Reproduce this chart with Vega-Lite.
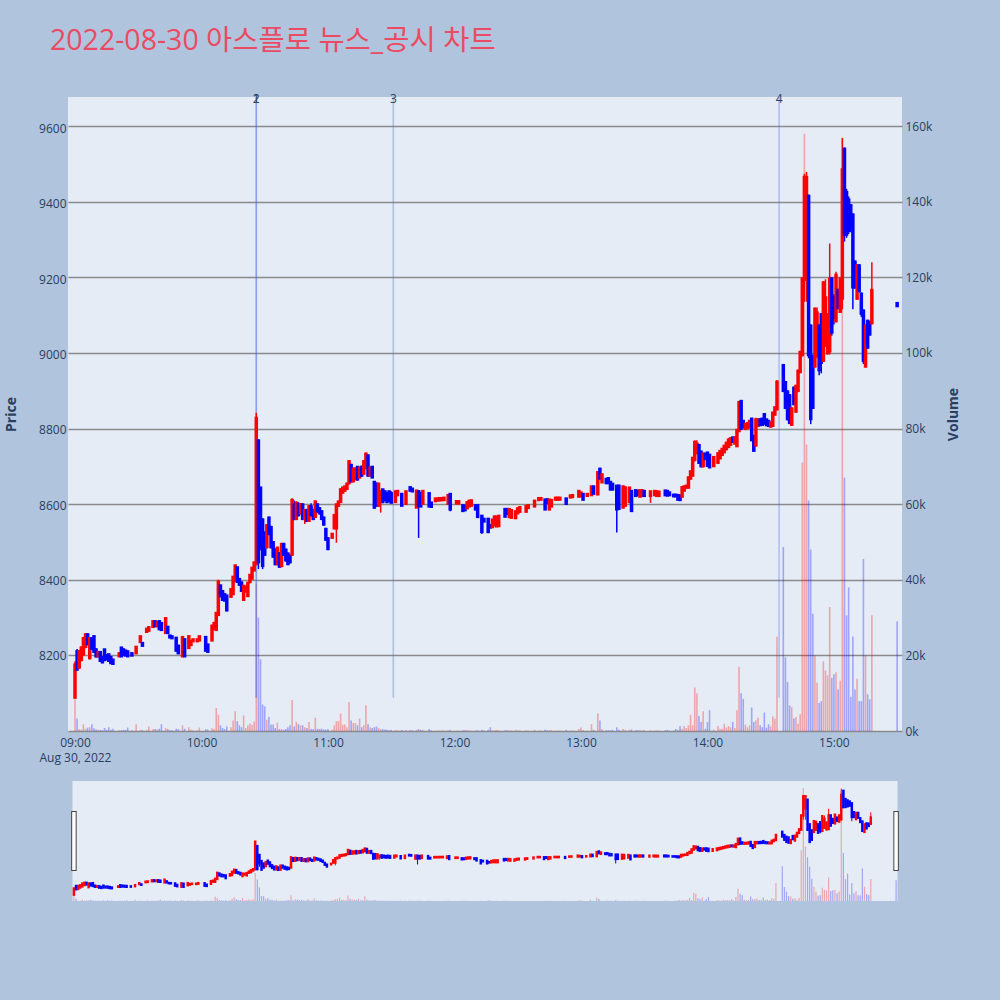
{
  "$schema": "https://vega.github.io/schema/vega-lite/v6.json",
  "background": "#B0C4DE",
  "padding": {"left": 4, "top": 26, "right": 62, "bottom": 130},
  "title": {
    "text": "2022-08-30 아스플로 뉴스_공시 차트",
    "anchor": "start",
    "frame": "group",
    "dx": -18,
    "offset": 38,
    "fontSize": 28.5,
    "fontWeight": "normal",
    "font": "Open Sans, Noto Sans CJK KR",
    "color": "#EB4B62"
  },
  "datasets": {
    "news": [{"t": "10:26", "n": "1"}, {"t": "10:26", "n": "2"}, {"t": "11:31", "n": "3"}, {"t": "14:34", "n": "4"}]
  },
  "data": {
    "format": {"parse": {"t": "date:'%H:%M'"}},
    "values": [
      {"t":"09:00","o":8090,"h":8185,"l":8088,"c":8175,"v":8400},
      {"t":"09:01","o":8210,"h":8218,"l":8160,"c":8165,"v":3300},
      {"t":"09:02","o":8170,"h":8215,"l":8165,"c":8210,"v":500},
      {"t":"09:03","o":8190,"h":8225,"l":8185,"c":8220,"v":400},
      {"t":"09:04","o":8205,"h":8250,"l":8200,"c":8245,"v":1800},
      {"t":"09:05","o":8225,"h":8260,"l":8220,"c":8255,"v":600},
      {"t":"09:06","o":8255,"h":8260,"l":8228,"c":8232,"v":900},
      {"t":"09:07","o":8195,"h":8250,"l":8190,"c":8245,"v":1000},
      {"t":"09:08","o":8245,"h":8250,"l":8215,"c":8220,"v":1800},
      {"t":"09:09","o":8250,"h":8255,"l":8210,"c":8212,"v":700},
      {"t":"09:10","o":8215,"h":8220,"l":8195,"c":8200,"v":400},
      {"t":"09:11","o":8200,"h":8212,"l":8195,"c":8208,"v":300},
      {"t":"09:12","o":8208,"h":8210,"l":8185,"c":8188,"v":300},
      {"t":"09:13","o":8195,"h":8198,"l":8180,"c":8184,"v":200},
      {"t":"09:14","o":8215,"h":8218,"l":8188,"c":8190,"v":800},
      {"t":"09:15","o":8200,"h":8202,"l":8190,"c":8192,"v":300},
      {"t":"09:16","o":8202,"h":8205,"l":8185,"c":8188,"v":1000},
      {"t":"09:17","o":8195,"h":8198,"l":8180,"c":8182,"v":300},
      {"t":"09:18","o":8188,"h":8190,"l":8178,"c":8180,"v":600},
      {"t":"09:21","o":8200,"h":8205,"l":8200,"c":8205,"v":200},
      {"t":"09:22","o":8220,"h":8222,"l":8198,"c":8200,"v":200},
      {"t":"09:23","o":8215,"h":8220,"l":8200,"c":8205,"v":300},
      {"t":"09:24","o":8212,"h":8215,"l":8200,"c":8202,"v":300},
      {"t":"09:25","o":8210,"h":8212,"l":8198,"c":8200,"v":900},
      {"t":"09:27","o":8205,"h":8205,"l":8200,"c":8202,"v":200},
      {"t":"09:29","o":8208,"h":8225,"l":8205,"c":8222,"v":1800},
      {"t":"09:31","o":8238,"h":8252,"l":8236,"c":8250,"v":300},
      {"t":"09:32","o":8232,"h":8232,"l":8228,"c":8228,"v":200},
      {"t":"09:34","o":8265,"h":8270,"l":8265,"c":8270,"v":300},
      {"t":"09:35","o":8268,"h":8275,"l":8266,"c":8274,"v":1200},
      {"t":"09:37","o":8278,"h":8292,"l":8276,"c":8290,"v":500},
      {"t":"09:38","o":8290,"h":8292,"l":8276,"c":8280,"v":500},
      {"t":"09:39","o":8280,"h":8292,"l":8278,"c":8288,"v":400},
      {"t":"09:40","o":8290,"h":8292,"l":8270,"c":8272,"v":600},
      {"t":"09:41","o":8285,"h":8287,"l":8268,"c":8270,"v":1800},
      {"t":"09:43","o":8262,"h":8302,"l":8258,"c":8298,"v":800},
      {"t":"09:44","o":8275,"h":8277,"l":8260,"c":8262,"v":500},
      {"t":"09:45","o":8252,"h":8252,"l":8250,"c":8250,"v":200},
      {"t":"09:46","o":8250,"h":8250,"l":8248,"c":8248,"v":200},
      {"t":"09:48","o":8246,"h":8248,"l":8212,"c":8215,"v":600},
      {"t":"09:49","o":8225,"h":8228,"l":8205,"c":8208,"v":500},
      {"t":"09:51","o":8200,"h":8252,"l":8198,"c":8248,"v":1500},
      {"t":"09:52","o":8242,"h":8244,"l":8198,"c":8200,"v":600},
      {"t":"09:54","o":8222,"h":8252,"l":8220,"c":8250,"v":1000},
      {"t":"09:55","o":8230,"h":8240,"l":8228,"c":8238,"v":300},
      {"t":"09:56","o":8240,"h":8242,"l":8238,"c":8242,"v":200},
      {"t":"09:58","o":8240,"h":8242,"l":8240,"c":8242,"v":200},
      {"t":"09:59","o":8242,"h":8252,"l":8240,"c":8250,"v":900},
      {"t":"10:02","o":8248,"h":8250,"l":8212,"c":8215,"v":500},
      {"t":"10:03","o":8228,"h":8230,"l":8210,"c":8212,"v":400},
      {"t":"10:05","o":8242,"h":8282,"l":8240,"c":8278,"v":700},
      {"t":"10:06","o":8272,"h":8290,"l":8268,"c":8285,"v":500},
      {"t":"10:07","o":8270,"h":8315,"l":8268,"c":8312,"v":6100},
      {"t":"10:08","o":8310,"h":8402,"l":8305,"c":8395,"v":4300},
      {"t":"10:09","o":8385,"h":8388,"l":8355,"c":8360,"v":1500},
      {"t":"10:10","o":8370,"h":8372,"l":8348,"c":8350,"v":800},
      {"t":"10:11","o":8362,"h":8365,"l":8345,"c":8348,"v":500},
      {"t":"10:12","o":8358,"h":8360,"l":8318,"c":8322,"v":1200},
      {"t":"10:14","o":8358,"h":8378,"l":8355,"c":8375,"v":1000},
      {"t":"10:15","o":8365,"h":8412,"l":8362,"c":8408,"v":2800},
      {"t":"10:16","o":8400,"h":8442,"l":8397,"c":8438,"v":5200},
      {"t":"10:17","o":8433,"h":8435,"l":8393,"c":8398,"v":2600},
      {"t":"10:18","o":8402,"h":8404,"l":8388,"c":8390,"v":1500},
      {"t":"10:19","o":8393,"h":8395,"l":8371,"c":8374,"v":1000},
      {"t":"10:20","o":8350,"h":8386,"l":8348,"c":8384,"v":4100},
      {"t":"10:21","o":8372,"h":8385,"l":8370,"c":8382,"v":800},
      {"t":"10:22","o":8360,"h":8395,"l":8358,"c":8392,"v":1500},
      {"t":"10:23","o":8397,"h":8415,"l":8395,"c":8413,"v":2000},
      {"t":"10:24","o":8406,"h":8434,"l":8404,"c":8432,"v":1600},
      {"t":"10:25","o":8428,"h":8450,"l":8426,"c":8446,"v":2500},
      {"t":"10:26","o":8445,"h":8845,"l":8440,"c":8830,"v":39000},
      {"t":"10:27","o":8770,"h":8775,"l":8430,"c":8450,"v":30000},
      {"t":"10:28","o":8645,"h":8648,"l":8480,"c":8530,"v":19000},
      {"t":"10:29","o":8560,"h":8565,"l":8430,"c":8440,"v":7000},
      {"t":"10:30","o":8525,"h":8530,"l":8465,"c":8470,"v":6500},
      {"t":"10:31","o":8490,"h":8550,"l":8485,"c":8545,"v":3000},
      {"t":"10:32","o":8565,"h":8570,"l":8520,"c":8525,"v":3700},
      {"t":"10:33","o":8540,"h":8545,"l":8485,"c":8490,"v":1700},
      {"t":"10:34","o":8500,"h":8505,"l":8460,"c":8465,"v":1700},
      {"t":"10:35","o":8480,"h":8485,"l":8440,"c":8445,"v":800},
      {"t":"10:36","o":8445,"h":8490,"l":8440,"c":8485,"v":2200},
      {"t":"10:37","o":8470,"h":8475,"l":8435,"c":8438,"v":500},
      {"t":"10:38","o":8440,"h":8500,"l":8435,"c":8495,"v":500},
      {"t":"10:39","o":8495,"h":8500,"l":8465,"c":8470,"v":300},
      {"t":"10:40","o":8480,"h":8485,"l":8450,"c":8455,"v":500},
      {"t":"10:41","o":8470,"h":8472,"l":8440,"c":8445,"v":1000},
      {"t":"10:42","o":8465,"h":8468,"l":8445,"c":8450,"v":1500},
      {"t":"10:43","o":8470,"h":8618,"l":8465,"c":8612,"v":8200},
      {"t":"10:44","o":8600,"h":8612,"l":8560,"c":8565,"v":1200},
      {"t":"10:45","o":8565,"h":8610,"l":8560,"c":8605,"v":2400},
      {"t":"10:46","o":8600,"h":8608,"l":8570,"c":8575,"v":1800},
      {"t":"10:47","o":8580,"h":8605,"l":8575,"c":8600,"v":1500},
      {"t":"10:48","o":8600,"h":8605,"l":8560,"c":8565,"v":1500},
      {"t":"10:49","o":8565,"h":8590,"l":8550,"c":8585,"v":1000},
      {"t":"10:50","o":8585,"h":8590,"l":8555,"c":8560,"v":800},
      {"t":"10:51","o":8560,"h":8600,"l":8555,"c":8595,"v":2400},
      {"t":"10:52","o":8595,"h":8605,"l":8570,"c":8575,"v":600},
      {"t":"10:53","o":8575,"h":8590,"l":8560,"c":8565,"v":500},
      {"t":"10:54","o":8570,"h":8612,"l":8568,"c":8608,"v":3500},
      {"t":"10:55","o":8600,"h":8605,"l":8580,"c":8585,"v":600},
      {"t":"10:56","o":8590,"h":8595,"l":8575,"c":8580,"v":500},
      {"t":"10:57","o":8582,"h":8585,"l":8560,"c":8565,"v":600},
      {"t":"10:58","o":8565,"h":8570,"l":8545,"c":8550,"v":400},
      {"t":"10:59","o":8535,"h":8540,"l":8505,"c":8510,"v":300},
      {"t":"11:00","o":8510,"h":8515,"l":8480,"c":8485,"v":500},
      {"t":"11:02","o":8515,"h":8525,"l":8512,"c":8522,"v":300},
      {"t":"11:03","o":8540,"h":8575,"l":8536,"c":8572,"v":1500},
      {"t":"11:04","o":8540,"h":8605,"l":8500,"c":8600,"v":2600},
      {"t":"11:05","o":8600,"h":8610,"l":8595,"c":8608,"v":2600},
      {"t":"11:06","o":8610,"h":8645,"l":8608,"c":8640,"v":4600},
      {"t":"11:07","o":8635,"h":8648,"l":8630,"c":8645,"v":1700},
      {"t":"11:08","o":8640,"h":8650,"l":8636,"c":8648,"v":1700},
      {"t":"11:09","o":8645,"h":8660,"l":8640,"c":8655,"v":1000},
      {"t":"11:10","o":8660,"h":8720,"l":8655,"c":8715,"v":7700},
      {"t":"11:11","o":8705,"h":8710,"l":8660,"c":8665,"v":2800},
      {"t":"11:12","o":8665,"h":8700,"l":8660,"c":8695,"v":2100},
      {"t":"11:13","o":8670,"h":8700,"l":8668,"c":8695,"v":2100},
      {"t":"11:14","o":8700,"h":8702,"l":8665,"c":8670,"v":1500},
      {"t":"11:15","o":8675,"h":8700,"l":8672,"c":8698,"v":3300},
      {"t":"11:16","o":8700,"h":8705,"l":8675,"c":8680,"v":1000},
      {"t":"11:17","o":8685,"h":8720,"l":8682,"c":8715,"v":1500},
      {"t":"11:18","o":8700,"h":8740,"l":8698,"c":8735,"v":6800},
      {"t":"11:19","o":8730,"h":8735,"l":8675,"c":8680,"v":1800},
      {"t":"11:20","o":8680,"h":8702,"l":8677,"c":8698,"v":1000},
      {"t":"11:21","o":8700,"h":8702,"l":8672,"c":8675,"v":800},
      {"t":"11:22","o":8660,"h":8662,"l":8590,"c":8595,"v":1000},
      {"t":"11:23","o":8655,"h":8660,"l":8595,"c":8600,"v":1200},
      {"t":"11:24","o":8600,"h":8660,"l":8595,"c":8655,"v":800},
      {"t":"11:25","o":8620,"h":8640,"l":8580,"c":8635,"v":500},
      {"t":"11:26","o":8640,"h":8642,"l":8605,"c":8610,"v":500},
      {"t":"11:27","o":8635,"h":8637,"l":8610,"c":8615,"v":400},
      {"t":"11:28","o":8630,"h":8635,"l":8605,"c":8610,"v":300},
      {"t":"11:29","o":8635,"h":8637,"l":8608,"c":8612,"v":200},
      {"t":"11:30","o":8630,"h":8637,"l":8605,"c":8608,"v":300},
      {"t":"11:32","o":8610,"h":8637,"l":8608,"c":8635,"v":200},
      {"t":"11:33","o":8628,"h":8638,"l":8626,"c":8636,"v":200},
      {"t":"11:35","o":8628,"h":8630,"l":8598,"c":8600,"v":300},
      {"t":"11:37","o":8605,"h":8638,"l":8600,"c":8635,"v":300},
      {"t":"11:39","o":8646,"h":8646,"l":8640,"c":8640,"v":200},
      {"t":"11:40","o":8642,"h":8642,"l":8638,"c":8638,"v":200},
      {"t":"11:42","o":8595,"h":8640,"l":8592,"c":8637,"v":300},
      {"t":"11:43","o":8635,"h":8640,"l":8513,"c":8600,"v":500},
      {"t":"11:44","o":8630,"h":8635,"l":8595,"c":8598,"v":300},
      {"t":"11:45","o":8605,"h":8638,"l":8602,"c":8636,"v":300},
      {"t":"11:48","o":8630,"h":8632,"l":8595,"c":8598,"v":500},
      {"t":"11:49","o":8605,"h":8606,"l":8595,"c":8597,"v":200},
      {"t":"11:51","o":8612,"h":8616,"l":8612,"c":8616,"v":100},
      {"t":"11:52","o":8614,"h":8616,"l":8614,"c":8616,"v":100},
      {"t":"11:53","o":8614,"h":8617,"l":8614,"c":8617,"v":100},
      {"t":"11:54","o":8615,"h":8617,"l":8615,"c":8617,"v":100},
      {"t":"11:55","o":8615,"h":8618,"l":8615,"c":8618,"v":100},
      {"t":"11:57","o":8605,"h":8628,"l":8602,"c":8625,"v":200},
      {"t":"11:58","o":8628,"h":8630,"l":8584,"c":8590,"v":300},
      {"t":"12:01","o":8606,"h":8609,"l":8606,"c":8609,"v":100},
      {"t":"12:02","o":8606,"h":8609,"l":8606,"c":8609,"v":100},
      {"t":"12:04","o":8598,"h":8600,"l":8584,"c":8586,"v":200},
      {"t":"12:05","o":8597,"h":8598,"l":8586,"c":8588,"v":200},
      {"t":"12:06","o":8593,"h":8608,"l":8592,"c":8606,"v":200},
      {"t":"12:07","o":8598,"h":8612,"l":8596,"c":8610,"v":150},
      {"t":"12:08","o":8600,"h":8612,"l":8598,"c":8611,"v":100},
      {"t":"12:10","o":8598,"h":8600,"l":8588,"c":8590,"v":100},
      {"t":"12:11","o":8598,"h":8600,"l":8567,"c":8570,"v":200},
      {"t":"12:13","o":8570,"h":8572,"l":8524,"c":8530,"v":300},
      {"t":"12:14","o":8562,"h":8565,"l":8555,"c":8558,"v":100},
      {"t":"12:16","o":8562,"h":8565,"l":8527,"c":8530,"v":300},
      {"t":"12:17","o":8545,"h":8548,"l":8540,"c":8542,"v":1000},
      {"t":"12:18","o":8543,"h":8562,"l":8540,"c":8560,"v":200},
      {"t":"12:19","o":8548,"h":8572,"l":8546,"c":8568,"v":200},
      {"t":"12:20","o":8545,"h":8570,"l":8543,"c":8568,"v":300},
      {"t":"12:21","o":8546,"h":8572,"l":8544,"c":8570,"v":200},
      {"t":"12:24","o":8588,"h":8590,"l":8568,"c":8571,"v":200},
      {"t":"12:25","o":8588,"h":8590,"l":8575,"c":8578,"v":200},
      {"t":"12:26","o":8570,"h":8590,"l":8568,"c":8588,"v":150},
      {"t":"12:27","o":8568,"h":8588,"l":8566,"c":8585,"v":200},
      {"t":"12:29","o":8567,"h":8584,"l":8565,"c":8582,"v":300},
      {"t":"12:30","o":8580,"h":8592,"l":8578,"c":8590,"v":150},
      {"t":"12:31","o":8584,"h":8595,"l":8582,"c":8593,"v":150},
      {"t":"12:34","o":8584,"h":8597,"l":8582,"c":8596,"v":200},
      {"t":"12:35","o":8594,"h":8598,"l":8593,"c":8598,"v":100},
      {"t":"12:38","o":8598,"h":8612,"l":8597,"c":8610,"v":300},
      {"t":"12:40","o":8615,"h":8617,"l":8615,"c":8617,"v":100},
      {"t":"12:41","o":8616,"h":8617,"l":8616,"c":8617,"v":100},
      {"t":"12:43","o":8613,"h":8615,"l":8587,"c":8590,"v":300},
      {"t":"12:44","o":8614,"h":8616,"l":8605,"c":8607,"v":200},
      {"t":"12:45","o":8590,"h":8615,"l":8588,"c":8613,"v":200},
      {"t":"12:46","o":8598,"h":8614,"l":8596,"c":8612,"v":300},
      {"t":"12:48","o":8616,"h":8618,"l":8616,"c":8618,"v":100},
      {"t":"12:49","o":8616,"h":8618,"l":8616,"c":8618,"v":100},
      {"t":"12:50","o":8616,"h":8618,"l":8616,"c":8618,"v":100},
      {"t":"12:53","o":8616,"h":8617,"l":8603,"c":8605,"v":300},
      {"t":"12:55","o":8622,"h":8624,"l":8622,"c":8624,"v":100},
      {"t":"12:56","o":8623,"h":8625,"l":8623,"c":8625,"v":100},
      {"t":"12:59","o":8624,"h":8638,"l":8622,"c":8636,"v":500},
      {"t":"13:00","o":8625,"h":8634,"l":8624,"c":8632,"v":900},
      {"t":"13:01","o":8628,"h":8630,"l":8614,"c":8616,"v":200},
      {"t":"13:03","o":8626,"h":8628,"l":8626,"c":8628,"v":100},
      {"t":"13:05","o":8628,"h":8650,"l":8626,"c":8648,"v":1800},
      {"t":"13:06","o":8648,"h":8650,"l":8628,"c":8632,"v":300},
      {"t":"13:08","o":8630,"h":8690,"l":8628,"c":8686,"v":4600},
      {"t":"13:09","o":8695,"h":8698,"l":8668,"c":8672,"v":2800},
      {"t":"13:10","o":8662,"h":8682,"l":8660,"c":8680,"v":500},
      {"t":"13:12","o":8668,"h":8670,"l":8658,"c":8660,"v":200},
      {"t":"13:13","o":8670,"h":8672,"l":8657,"c":8660,"v":200},
      {"t":"13:14","o":8660,"h":8662,"l":8640,"c":8643,"v":200},
      {"t":"13:15","o":8655,"h":8658,"l":8640,"c":8643,"v":300},
      {"t":"13:17","o":8650,"h":8653,"l":8527,"c":8590,"v":1000},
      {"t":"13:18","o":8650,"h":8652,"l":8588,"c":8592,"v":300},
      {"t":"13:20","o":8595,"h":8652,"l":8592,"c":8648,"v":500},
      {"t":"13:21","o":8600,"h":8650,"l":8598,"c":8645,"v":300},
      {"t":"13:23","o":8610,"h":8648,"l":8605,"c":8645,"v":300},
      {"t":"13:24","o":8636,"h":8638,"l":8584,"c":8586,"v":400},
      {"t":"13:26","o":8638,"h":8640,"l":8624,"c":8626,"v":200},
      {"t":"13:27","o":8636,"h":8638,"l":8626,"c":8628,"v":200},
      {"t":"13:28","o":8624,"h":8640,"l":8622,"c":8638,"v":200},
      {"t":"13:29","o":8626,"h":8640,"l":8625,"c":8638,"v":100},
      {"t":"13:30","o":8636,"h":8638,"l":8624,"c":8626,"v":200},
      {"t":"13:33","o":8626,"h":8637,"l":8606,"c":8635,"v":200},
      {"t":"13:35","o":8628,"h":8637,"l":8626,"c":8636,"v":100},
      {"t":"13:36","o":8626,"h":8637,"l":8625,"c":8635,"v":100},
      {"t":"13:37","o":8626,"h":8636,"l":8624,"c":8634,"v":100},
      {"t":"13:40","o":8637,"h":8638,"l":8627,"c":8628,"v":200},
      {"t":"13:41","o":8636,"h":8637,"l":8625,"c":8627,"v":300},
      {"t":"13:42","o":8632,"h":8633,"l":8626,"c":8628,"v":100},
      {"t":"13:44","o":8626,"h":8627,"l":8624,"c":8625,"v":100},
      {"t":"13:45","o":8626,"h":8627,"l":8624,"c":8625,"v":500},
      {"t":"13:46","o":8625,"h":8626,"l":8614,"c":8616,"v":200},
      {"t":"13:47","o":8624,"h":8625,"l":8614,"c":8615,"v":1300},
      {"t":"13:48","o":8624,"h":8650,"l":8622,"c":8646,"v":600},
      {"t":"13:49","o":8640,"h":8650,"l":8638,"c":8648,"v":1300},
      {"t":"13:50","o":8648,"h":8652,"l":8644,"c":8650,"v":800},
      {"t":"13:51","o":8648,"h":8676,"l":8645,"c":8672,"v":1500},
      {"t":"13:52","o":8672,"h":8692,"l":8668,"c":8688,"v":4300},
      {"t":"13:53","o":8680,"h":8728,"l":8676,"c":8724,"v":1500},
      {"t":"13:54","o":8722,"h":8772,"l":8716,"c":8766,"v":11500},
      {"t":"13:55","o":8740,"h":8772,"l":8735,"c":8762,"v":9900},
      {"t":"13:56","o":8758,"h":8762,"l":8710,"c":8714,"v":4000},
      {"t":"13:57","o":8740,"h":8745,"l":8700,"c":8705,"v":2400},
      {"t":"13:58","o":8705,"h":8740,"l":8700,"c":8735,"v":5200},
      {"t":"13:59","o":8735,"h":8738,"l":8720,"c":8724,"v":600},
      {"t":"14:00","o":8738,"h":8740,"l":8702,"c":8706,"v":2400},
      {"t":"14:01","o":8732,"h":8735,"l":8698,"c":8702,"v":5500},
      {"t":"14:03","o":8705,"h":8730,"l":8702,"c":8726,"v":400},
      {"t":"14:05","o":8714,"h":8740,"l":8712,"c":8736,"v":1300},
      {"t":"14:06","o":8726,"h":8745,"l":8722,"c":8742,"v":600},
      {"t":"14:07","o":8735,"h":8752,"l":8732,"c":8748,"v":500},
      {"t":"14:08","o":8742,"h":8760,"l":8740,"c":8756,"v":1900},
      {"t":"14:09","o":8750,"h":8768,"l":8748,"c":8764,"v":900},
      {"t":"14:10","o":8756,"h":8778,"l":8754,"c":8772,"v":1300},
      {"t":"14:11","o":8762,"h":8780,"l":8760,"c":8776,"v":1000},
      {"t":"14:12","o":8778,"h":8780,"l":8768,"c":8770,"v":2400},
      {"t":"14:13","o":8765,"h":8782,"l":8762,"c":8778,"v":800},
      {"t":"14:14","o":8758,"h":8802,"l":8755,"c":8798,"v":5500},
      {"t":"14:15","o":8798,"h":8876,"l":8795,"c":8872,"v":17000},
      {"t":"14:16","o":8875,"h":8878,"l":8800,"c":8805,"v":10000},
      {"t":"14:17","o":8822,"h":8825,"l":8806,"c":8808,"v":8500},
      {"t":"14:18","o":8804,"h":8816,"l":8802,"c":8814,"v":1700},
      {"t":"14:19","o":8806,"h":8818,"l":8804,"c":8816,"v":1000},
      {"t":"14:20","o":8808,"h":8826,"l":8806,"c":8822,"v":1500},
      {"t":"14:21","o":8828,"h":8830,"l":8770,"c":8774,"v":6200},
      {"t":"14:22","o":8782,"h":8785,"l":8742,"c":8746,"v":2400},
      {"t":"14:23","o":8760,"h":8832,"l":8756,"c":8826,"v":2800},
      {"t":"14:24","o":8812,"h":8830,"l":8808,"c":8826,"v":3500},
      {"t":"14:25","o":8826,"h":8828,"l":8812,"c":8814,"v":1500},
      {"t":"14:26","o":8828,"h":8830,"l":8812,"c":8815,"v":1000},
      {"t":"14:27","o":8840,"h":8842,"l":8815,"c":8818,"v":4900},
      {"t":"14:28","o":8826,"h":8828,"l":8812,"c":8814,"v":900},
      {"t":"14:29","o":8822,"h":8824,"l":8810,"c":8812,"v":1800},
      {"t":"14:30","o":8810,"h":8820,"l":8808,"c":8818,"v":1200},
      {"t":"14:31","o":8812,"h":8848,"l":8810,"c":8844,"v":3900},
      {"t":"14:32","o":8842,"h":8862,"l":8838,"c":8858,"v":3300},
      {"t":"14:33","o":8856,"h":8932,"l":8852,"c":8926,"v":24900},
      {"t":"14:36","o":8970,"h":8975,"l":8900,"c":8905,"v":48700},
      {"t":"14:37","o":8925,"h":8930,"l":8855,"c":8860,"v":19500},
      {"t":"14:38","o":8900,"h":8905,"l":8825,"c":8830,"v":13000},
      {"t":"14:39","o":8890,"h":8895,"l":8815,"c":8820,"v":6800},
      {"t":"14:40","o":8815,"h":8860,"l":8810,"c":8855,"v":6300},
      {"t":"14:41","o":8910,"h":8915,"l":8865,"c":8870,"v":3300},
      {"t":"14:42","o":8850,"h":8920,"l":8845,"c":8915,"v":3700},
      {"t":"14:43","o":8905,"h":8960,"l":8900,"c":8955,"v":1900},
      {"t":"14:44","o":8955,"h":9010,"l":8950,"c":9005,"v":4400},
      {"t":"14:45","o":9000,"h":9205,"l":8995,"c":9200,"v":71000},
      {"t":"14:46","o":9200,"h":9480,"l":9140,"c":9470,"v":158000},
      {"t":"14:47","o":9300,"h":9485,"l":9140,"c":9470,"v":75800},
      {"t":"14:48","o":9420,"h":9425,"l":8990,"c":9000,"v":61000},
      {"t":"14:49","o":9075,"h":9080,"l":8815,"c":8830,"v":48000},
      {"t":"14:50","o":8990,"h":9000,"l":8855,"c":8860,"v":31000},
      {"t":"14:51","o":8970,"h":9125,"l":8965,"c":9120,"v":20000},
      {"t":"14:52","o":9000,"h":9125,"l":8990,"c":9110,"v":12800},
      {"t":"14:53","o":9075,"h":9080,"l":8945,"c":8960,"v":7400},
      {"t":"14:54","o":9105,"h":9110,"l":8950,"c":8980,"v":7900},
      {"t":"14:55","o":8985,"h":9195,"l":8980,"c":9190,"v":18400},
      {"t":"14:56","o":9030,"h":9200,"l":9020,"c":9150,"v":16000},
      {"t":"14:57","o":9005,"h":9110,"l":9000,"c":9100,"v":14700},
      {"t":"14:58","o":9010,"h":9295,"l":9000,"c":9200,"v":32800},
      {"t":"14:59","o":9200,"h":9205,"l":9050,"c":9060,"v":14000},
      {"t":"15:00","o":9150,"h":9160,"l":9080,"c":9100,"v":15000},
      {"t":"15:01","o":9090,"h":9220,"l":9085,"c":9210,"v":15500},
      {"t":"15:02","o":9170,"h":9175,"l":9120,"c":9125,"v":11000},
      {"t":"15:03","o":9115,"h":9205,"l":9110,"c":9200,"v":13300},
      {"t":"15:04","o":9150,"h":9575,"l":9120,"c":9490,"v":157000},
      {"t":"15:05","o":9545,"h":9550,"l":9300,"c":9320,"v":67000},
      {"t":"15:06","o":9430,"h":9440,"l":9310,"c":9320,"v":30600},
      {"t":"15:07","o":9410,"h":9420,"l":9320,"c":9330,"v":38000},
      {"t":"15:08","o":9395,"h":9400,"l":9325,"c":9340,"v":9000},
      {"t":"15:09","o":9370,"h":9375,"l":9120,"c":9180,"v":25000},
      {"t":"15:10","o":9245,"h":9250,"l":9175,"c":9180,"v":11000},
      {"t":"15:11","o":9150,"h":9240,"l":9145,"c":9235,"v":13800},
      {"t":"15:12","o":9235,"h":9240,"l":9165,"c":9170,"v":7900},
      {"t":"15:13","o":9160,"h":9165,"l":9100,"c":9110,"v":7900},
      {"t":"15:14","o":9115,"h":9120,"l":8975,"c":8985,"v":45500},
      {"t":"15:15","o":8970,"h":9080,"l":8965,"c":9075,"v":20000},
      {"t":"15:16","o":9088,"h":9092,"l":9015,"c":9020,"v":9700},
      {"t":"15:17","o":9085,"h":9088,"l":9050,"c":9055,"v":8400},
      {"t":"15:18","o":9085,"h":9245,"l":9080,"c":9170,"v":30600},
      {"t":"15:30","o":9135,"h":9135,"l":9130,"c":9130,"v":29000}
    ]
  },
  "bounds": "flush",
  "center": true,
  "spacing": 50,
  "vconcat": [
    {
      "width": 834,
      "height": 634,
      "encoding": {
        "x": {
          "field": "t",
          "type": "temporal",
          "scale": {"padding": 0, "domain": [
            {"year": 1900, "month": 1, "date": 1, "hours": 8, "minutes": 56, "seconds": 41},
            {"year": 1900, "month": 1, "date": 1, "hours": 15, "minutes": 32, "seconds": 18}
          ]},
          "axis": {
            "title": null,
            "grid": false,
            "labelPadding": 6,
            "labelLineHeight": 15,
            "labelOverlap": false,
            "labelFlush": false,
            "values": [
              {"year": 1900, "month": 1, "date": 1, "hours": 9},
              {"year": 1900, "month": 1, "date": 1, "hours": 10},
              {"year": 1900, "month": 1, "date": 1, "hours": 11},
              {"year": 1900, "month": 1, "date": 1, "hours": 12},
              {"year": 1900, "month": 1, "date": 1, "hours": 13},
              {"year": 1900, "month": 1, "date": 1, "hours": 14},
              {"year": 1900, "month": 1, "date": 1, "hours": 15}
            ],
            "labelExpr": "hours(datum.value) == 9 ? ['09:00', 'Aug 30, 2022'] : timeFormat(datum.value, '%H:%M')"
          }
        }
      },
      "layer": [
        {
          "mark": {"type": "bar", "size": 1.6, "opacity": 0.3},
          "encoding": {
            "y": {
              "field": "v",
              "type": "quantitative",
              "scale": {"domain": [0, 167700]},
              "axis": {
                "orient": "right",
                "title": "Volume",
                "titleAngle": 270,
                "values": [0, 20000, 40000, 60000, 80000, 100000, 120000, 140000, 160000],
                "format": "~s",
                "gridColor": "#8a8a8a",
                "gridWidth": 1.3,
                "labelPadding": 3,
                "titlePadding": 29
              }
            },
            "color": {"condition": {"test": "datum.c >= datum.o", "value": "#ff0000"}, "value": "#0000ff"}
          }
        },
        {
          "data": {"name": "news", "format": {"parse": {"t": "date:'%H:%M'"}}},
          "mark": {"type": "rule", "color": "royalblue", "opacity": 0.35, "strokeWidth": 1.6},
          "encoding": {
            "y": {"datum": 8088, "type": "quantitative", "scale": {"domain": [8000, 9684]}, "axis": null},
            "y2": {"datum": 9684}
          }
        },
        {
          "layer": [
            {
              "mark": {"type": "rule", "strokeWidth": 1.5},
              "encoding": {
                "y": {
                  "field": "l",
                  "type": "quantitative",
                  "scale": {"domain": [8000, 9684]},
                  "title": "Price",
                  "axis": {
                    "orient": "left",
                    "values": [8000, 8200, 8400, 8600, 8800, 9000, 9200, 9400, 9600],
                    "format": "d",
                    "labelExpr": "datum.value == 8000 ? '' : datum.label",
                    "gridColor": "white",
                    "gridWidth": 2,
                    "labelPadding": 2,
                    "titlePadding": 20
                  }
                },
                "y2": {"field": "h"},
                "color": {"condition": {"test": "datum.c >= datum.o", "value": "#ff0000"}, "value": "#0000ff"}
              }
            },
            {
              "mark": {"type": "rule", "strokeWidth": 3.5, "strokeCap": "square"},
              "encoding": {
                "y": {"field": "o", "type": "quantitative", "scale": {"domain": [8000, 9684]}, "title": "Price"},
                "y2": {"field": "c"},
                "color": {"condition": {"test": "datum.c >= datum.o", "value": "#ff0000"}, "value": "#0000ff"}
              }
            }
          ]
        },
        {
          "data": {"name": "news", "format": {"parse": {"t": "date:'%H:%M'"}}},
          "mark": {"type": "text", "color": "#2a3f5f", "fontSize": 12, "baseline": "middle", "dy": 2},
          "encoding": {
            "y": {"datum": 9684, "type": "quantitative", "scale": {"domain": [8000, 9684]}, "axis": null},
            "text": {"field": "n"}
          }
        }
      ],
      "resolve": {"scale": {"y": "independent"}}
    },
    {
      "width": 825,
      "height": 120,
      "encoding": {
        "x": {
          "field": "t",
          "type": "temporal",
          "axis": null,
          "scale": {"padding": 0, "domain": [
            {"year": 1900, "month": 1, "date": 1, "hours": 8, "minutes": 59, "seconds": 20},
            {"year": 1900, "month": 1, "date": 1, "hours": 15, "minutes": 30, "seconds": 40}
          ]}
        }
      },
      "layer": [
        {
          "mark": {"type": "bar", "size": 1.2, "opacity": 0.3},
          "encoding": {
            "y": {"field": "v", "type": "quantitative", "scale": {"domain": [0, 167700]}, "axis": null},
            "color": {"condition": {"test": "datum.c >= datum.o", "value": "#ff0000"}, "value": "#0000ff"}
          }
        },
        {
          "layer": [
            {
              "mark": {"type": "rule", "strokeWidth": 1},
              "encoding": {
                "y": {"field": "l", "type": "quantitative", "scale": {"domain": [8000, 9684]}, "axis": null},
                "y2": {"field": "h"},
                "color": {"condition": {"test": "datum.c >= datum.o", "value": "#ff0000"}, "value": "#0000ff"}
              }
            },
            {
              "mark": {"type": "rule", "strokeWidth": 2.5, "strokeCap": "square"},
              "encoding": {
                "y": {"field": "o", "type": "quantitative", "scale": {"domain": [8000, 9684]}, "axis": null},
                "y2": {"field": "c"},
                "color": {"condition": {"test": "datum.c >= datum.o", "value": "#ff0000"}, "value": "#0000ff"}
              }
            }
          ]
        },
        {
          "transform": [
            {"aggregate": [{"op": "min", "field": "t", "as": "t0"}, {"op": "max", "field": "t", "as": "t1"}]},
            {"fold": ["t0", "t1"], "as": ["edge", "te"]}
          ],
          "layer": [
            {
              "mark": {"type": "rule", "color": "#444444", "strokeWidth": 5.5, "strokeCap": "butt"},
              "encoding": {
                "x": {"field": "te", "type": "temporal"},
                "y": {"datum": 8421, "type": "quantitative", "scale": {"domain": [8000, 9684]}, "axis": null},
                "y2": {"datum": 9263}
              }
            },
            {
              "mark": {"type": "rule", "color": "white", "strokeWidth": 3.5, "strokeCap": "butt"},
              "encoding": {
                "x": {"field": "te", "type": "temporal"},
                "y": {"datum": 8435, "type": "quantitative", "scale": {"domain": [8000, 9684]}, "axis": null},
                "y2": {"datum": 9249}
              }
            }
          ]
        }
      ],
      "resolve": {"scale": {"y": "independent"}}
    }
  ],
  "resolve": {"scale": {"x": "independent", "y": "independent"}},
  "config": {
    "font": "Open Sans, Noto Sans CJK KR",
    "view": {"fill": "#E5ECF6", "stroke": null},
    "axis": {
      "labelColor": "#2a3f5f",
      "titleColor": "#2a3f5f",
      "labelFont": "Open Sans",
      "titleFont": "Open Sans",
      "labelFontSize": 12,
      "titleFontSize": 14,
      "titleFontWeight": "bold",
      "ticks": false,
      "domain": false
    }
  }
}
